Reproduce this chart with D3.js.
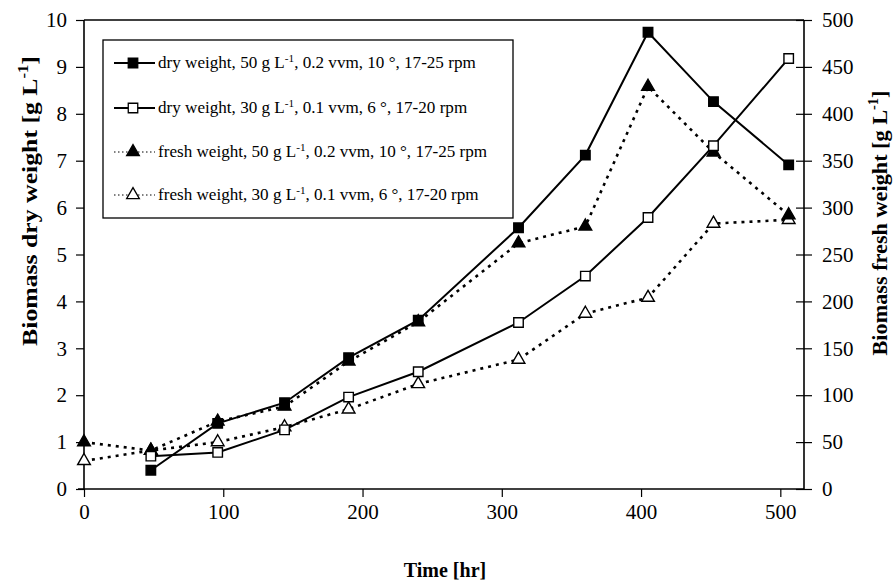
<!DOCTYPE html>
<html><head><meta charset="utf-8">
<script src="https://cdn.jsdelivr.net/npm/d3@7"></script>
<style>body{margin:0;background:#fff}svg{display:block}text{font-family:"Liberation Serif","Times New Roman",serif;fill:#000}</style>
</head><body><svg id="c" width="895" height="585"></svg>
<script>
// ---- data ----
const timeDry = [48, 96, 144, 190, 240, 312, 360, 405, 452, 506];
const dry50 = [0.40, 1.40, 1.84, 2.80, 3.60, 5.57, 7.12, 9.74, 8.26, 6.91];
const dry30 = [0.70, 0.78, 1.26, 1.96, 2.50, 3.55, 4.54, 5.79, 7.32, 9.18];
const timeFresh = [0, 48, 96, 144, 190, 240, 312, 360, 405, 452, 506];
const fresh50 = [50, 41, 72, 88, 136, 178, 262, 280, 429, 359, 292];
const fresh30 = [30, 41, 50, 66, 85, 112, 138, 187, 204, 283, 287];
const xTicks = [0, 100, 200, 300, 400, 500];
const yLeftTicks = [0,1,2,3,4,5,6,7,8,9,10];
const yRightTicks = [0,50,100,150,200,250,300,350,400,450,500];
const legendLabels = [
  {pre:"dry weight, 50 g L", post:", 0.2 vvm, 10 °, 17-25 rpm"},
  {pre:"dry weight, 30 g L", post:", 0.1 vvm, 6 °, 17-20 rpm"},
  {pre:"fresh weight, 50 g L", post:", 0.2 vvm, 10 °, 17-25 rpm"},
  {pre:"fresh weight, 30 g L", post:", 0.1 vvm, 6 °, 17-20 rpm"}
];

const svg = d3.select("#c");
const L = 84, R = 804, T = 20, B = 489;
const x = d3.scaleLinear().domain([0, 517]).range([L, R]);
const yL = d3.scaleLinear().domain([0, 10]).range([B, T]);
const yR = d3.scaleLinear().domain([0, 500]).range([B, T]);

// frame
svg.append("line").attr("x1",L).attr("x2",R).attr("y1",T).attr("y2",T).attr("stroke","#000").attr("stroke-width",1.5);

// axes
const ax = svg.append("g").attr("transform",`translate(0,${B})`)
  .call(d3.axisBottom(x).tickValues(xTicks).tickSize(8).tickPadding(7).tickFormat(d3.format("d")));
const ayl = svg.append("g").attr("transform",`translate(${L},0)`)
  .call(d3.axisLeft(yL).tickValues(yLeftTicks).tickSize(8).tickPadding(9).tickFormat(d3.format("d")));
const ayr = svg.append("g").attr("transform",`translate(${R},0)`)
  .call(d3.axisRight(yR).tickValues(yRightTicks).tickSize(8).tickPadding(10).tickFormat(d3.format("d")));
ayr.selectAll(".tick line").attr("x1",-8);
[ax,ayl,ayr].forEach(g=>{
  g.select(".domain").attr("stroke","#000").attr("stroke-width",1.6).attr("d", null);
  g.selectAll(".tick line").attr("stroke","#000").attr("stroke-width",1.2);
  g.selectAll("text").style("font-family",'"Liberation Serif",serif').style("font-size","21px").attr("fill","#000");
});
ax.select(".domain").attr("d",`M${L-6},0H${R}`);
ayl.select(".domain").attr("d",`M0,${T}V${B}`);
ayr.select(".domain").attr("d",`M0,${T}V${B}`);

// lines
const lineDry = d3.line().x((d,i)=>x(timeDry[i])).y(d=>yL(d));
const lineFresh = d3.line().x((d,i)=>x(timeFresh[i])).y(d=>yR(d));
svg.append("path").datum(fresh50).attr("d",lineFresh).attr("fill","none").attr("stroke","#000").attr("stroke-width",2.6).attr("stroke-dasharray","3,5");
svg.append("path").datum(fresh30).attr("d",lineFresh).attr("fill","none").attr("stroke","#000").attr("stroke-width",2.6).attr("stroke-dasharray","3,5");
svg.append("path").datum(dry50).attr("d",lineDry).attr("fill","none").attr("stroke","#000").attr("stroke-width",2);
svg.append("path").datum(dry30).attr("d",lineDry).attr("fill","none").attr("stroke","#000").attr("stroke-width",2);

const sqr = d3.symbol().type(d3.symbolSquare).size(90);
const tri = d3.symbol().type(d3.symbolTriangle).size(70);
function markers(data, xs, ys, sym, filled){
  svg.append("g").selectAll("path").data(data).join("path")
    .attr("d", sym)
    .attr("transform",(d,i)=>`translate(${x(xs[i])},${ys(d)})`)
    .attr("fill", filled ? "#000" : "#fff")
    .attr("stroke","#000").attr("stroke-width",1.4);
}
markers(fresh30, timeFresh, yR, tri, false);
markers(fresh50, timeFresh, yR, tri, true);
markers(dry30, timeDry, yL, sqr, false);
markers(dry50, timeDry, yL, sqr, true);

// legend
const lg = svg.append("g");
lg.append("rect").attr("x",103).attr("y",40).attr("width",410).attr("height",178)
  .attr("fill","#fff").attr("stroke","#000").attr("stroke-width",1.3);
const ly = [63, 108, 152, 195];
const lstyles = [
  {sym:sqr, fill:"#000", dash:null, w:1.8},
  {sym:sqr, fill:"#fff", dash:null, w:1.8},
  {sym:tri, fill:"#000", dash:"1.5,2.5", w:1},
  {sym:tri, fill:"#fff", dash:"1.5,2.5", w:1}
];
legendLabels.forEach((lab,i)=>{
  const s = lstyles[i];
  lg.append("line").attr("x1",114).attr("x2",155).attr("y1",ly[i]).attr("y2",ly[i])
    .attr("stroke","#000").attr("stroke-width",s.w).attr("stroke-dasharray",s.dash);
  lg.append("path").attr("d", s.sym).attr("transform",`translate(133,${ly[i]})`)
    .attr("fill",s.fill).attr("stroke","#000").attr("stroke-width",1.3);
  const t = lg.append("text").attr("transform",`translate(158,${ly[i]+5}) scale(1.07,1)`).style("font-size","16px");
  t.append("tspan").text(lab.pre);
  t.append("tspan").attr("dy",-6).style("font-size","10.5px").text("-1");
  t.append("tspan").attr("dy",6).text(lab.post);
});

// axis titles
function title(txt, xx, yy, rot, size, sx){
  const t = svg.append("text").attr("transform",`translate(${xx},${yy}) rotate(${rot}) scale(${sx},1)`)
    .attr("text-anchor","middle").style("font-weight","bold").style("font-size",size+"px");
  if (txt.includes("|")) {
    const [a,b] = txt.split("|");
    t.append("tspan").text(a);
    t.append("tspan").attr("dy",-9).style("font-size",(size*0.65)+"px").text("-1");
    t.append("tspan").attr("dy",9).text(b);
  } else t.text(txt);
}
title("Biomass dry weight [g L|]", 37, 201, -90, 22, 1.17);
title("Biomass fresh weight [g L|]", 887, 223, -90, 21, 1.06);
title("Time [hr]", 445, 577, 0, 20, 1);
</script></body></html>
